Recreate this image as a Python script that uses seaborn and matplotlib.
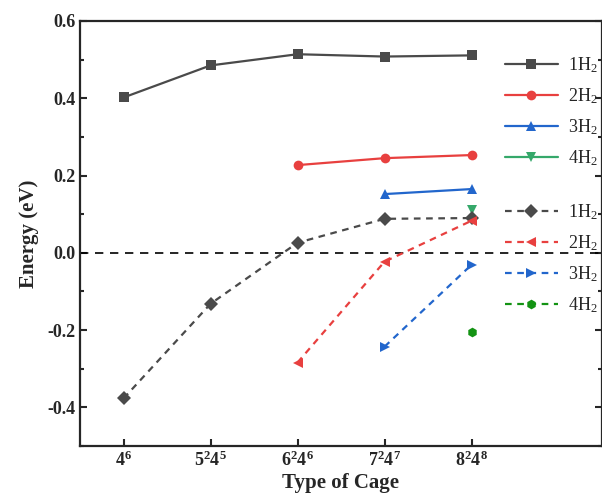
import matplotlib
matplotlib.use("Agg")
import matplotlib.pyplot as plt
import seaborn as sns
import pandas as pd
from matplotlib.ticker import MultipleLocator

# ---------------- data ----------------
cages = ["$\\mathbf{4^6}$", "$\\mathbf{5^24^5}$", "$\\mathbf{6^24^6}$",
         "$\\mathbf{7^24^7}$", "$\\mathbf{8^24^8}$"]
cage_pos = [1, 2, 3, 4, 5]

solid_1H2_x = [1, 2, 3, 4, 5]
solid_1H2_y = [0.402, 0.485, 0.514, 0.508, 0.511]
solid_2H2_x = [3, 4, 5]
solid_2H2_y = [0.227, 0.245, 0.253]
solid_3H2_x = [4, 5]
solid_3H2_y = [0.152, 0.165]
solid_4H2_x = [5]
solid_4H2_y = [0.111]

dash_1H2_x = [1, 2, 3, 4, 5]
dash_1H2_y = [-0.377, -0.132, 0.026, 0.088, 0.090]
dash_2H2_x = [3, 4, 5]
dash_2H2_y = [-0.284, -0.023, 0.083]
dash_3H2_x = [4, 5]
dash_3H2_y = [-0.243, -0.031]
dash_4H2_x = [5]
dash_4H2_y = [-0.206]

labels = ["1H$_2$", "2H$_2$", "3H$_2$", "4H$_2$"]

# ---------------- style ----------------
sns.set_style("ticks")
plt.rcParams["font.family"] = ["Liberation Serif", "DejaVu Serif"]
plt.rcParams["mathtext.fontset"] = "custom"
plt.rcParams["mathtext.rm"] = "Liberation Serif"
plt.rcParams["mathtext.it"] = "Liberation Serif:italic"
plt.rcParams["mathtext.bf"] = "Liberation Serif:bold"

fig = plt.figure(figsize=(6.02, 5.03), dpi=100)
ax = fig.add_axes([80 / 602, 1 - 446 / 503, 522 / 602, 425 / 503])

c_gray = "#4a4a4a"
c_red = "#e8403f"
c_blue = "#2266cc"
c_green1 = "#35a86a"
c_green2 = "#139313"

solid = [
    (solid_1H2_x, solid_1H2_y, c_gray, "s"),
    (solid_2H2_x, solid_2H2_y, c_red, "o"),
    (solid_3H2_x, solid_3H2_y, c_blue, "^"),
    (solid_4H2_x, solid_4H2_y, c_green1, "v"),
]
dashed = [
    (dash_1H2_x, dash_1H2_y, c_gray, "D"),
    (dash_2H2_x, dash_2H2_y, c_red, "<"),
    (dash_3H2_x, dash_3H2_y, c_blue, ">"),
    (dash_4H2_x, dash_4H2_y, c_green2, "h"),
]

ax.axhline(0, color="black", lw=1.2, ls=(0, (5, 4)), zorder=1)

solid_handles = []
for (x, y, c, m), lab in zip(solid, labels):
    sns.lineplot(x=x, y=y, ax=ax, color=c, marker=m, markersize=7,
                 markeredgewidth=0, lw=1.6, linestyle="-", label=lab,
                 legend=False)
    solid_handles.append(ax.lines[-1])

dash_handles = []
for (x, y, c, m), lab in zip(dashed, labels):
    sns.lineplot(x=x, y=y, ax=ax, color=c, marker=m, markersize=7,
                 markeredgewidth=0, lw=1.6, linestyle=(0, (3, 2.5)), label=lab,
                 legend=False)
    dash_handles.append(ax.lines[-1])

ax.set_xlim(0.5, 6.5)
ax.set_ylim(-0.5, 0.6)
ax.set_xticks(cage_pos)
ax.set_xticklabels(cages)
ax.yaxis.set_major_locator(MultipleLocator(0.2))
ax.yaxis.set_minor_locator(MultipleLocator(0.1))
ax.yaxis.set_major_formatter(matplotlib.ticker.FormatStrFormatter("%.1f"))
ax.tick_params(axis="both", which="both", direction="in", right=True,
               top=False, width=1.5)
ax.tick_params(axis="both", which="major", length=5, labelsize=13)
ax.tick_params(axis="y", which="minor", length=3)
for lbl in ax.get_yticklabels():
    lbl.set_fontweight("bold")
for sp in ax.spines.values():
    sp.set_linewidth(1.6)

ax.set_xlabel("Type of Cage", fontsize=15, fontweight="bold", labelpad=2)
ax.set_ylabel("Energy (eV)", fontsize=15, fontweight="bold", labelpad=6)

leg1 = ax.legend(handles=solid_handles, labels=labels, loc="upper left",
                 bbox_to_anchor=(498 / 602, 1 - 48 / 503),
                 bbox_transform=fig.transFigure, frameon=False, fontsize=13,
                 handlelength=2.9, labelspacing=0.62, handletextpad=0.6,
                 borderaxespad=0)
ax.add_artist(leg1)
ax.legend(handles=dash_handles, labels=labels, loc="upper left",
          bbox_to_anchor=(498 / 602, 1 - 195 / 503),
          bbox_transform=fig.transFigure, frameon=False, fontsize=13,
          handlelength=2.9, labelspacing=0.62, handletextpad=0.6,
          borderaxespad=0)

fig.savefig("out.png", dpi=100)
